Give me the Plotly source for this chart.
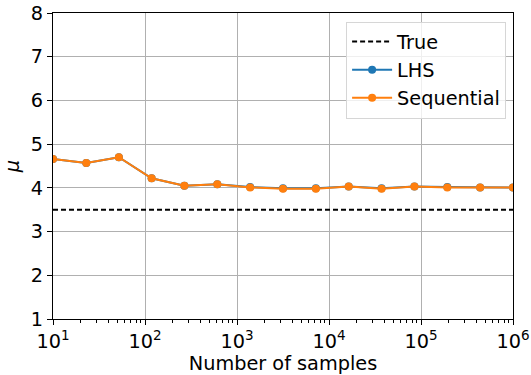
import plotly.graph_objects as go

# Data
n_samples = [10, 23, 52, 118, 268, 611, 1389, 3162, 7197, 16379, 37276, 84834, 193070, 439397, 1000000]
mu_lhs = [4.66, 4.57, 4.70, 4.22, 4.05, 4.08, 4.02, 3.99, 3.99, 4.03, 3.99, 4.03, 4.02, 4.01, 4.01]
mu_seq = [4.66, 4.57, 4.70, 4.22, 4.05, 4.08, 4.01, 3.98, 3.98, 4.03, 3.98, 4.03, 4.01, 4.01, 4.01]
true_mu = 3.5
x_range = [10, 1000000]
x_tickvals = [10, 100, 1000, 10000, 100000, 1000000]
x_ticktext = ["10<sup>1</sup>", "10<sup>2</sup>", "10<sup>3</sup>", "10<sup>4</sup>", "10<sup>5</sup>", "10<sup>6</sup>"]
x_minor = [m * 10 ** e for e in range(1, 6) for m in range(2, 10)]

FONT = "DejaVu Sans"
FS = 19.3

fig = go.Figure()
fig.add_trace(go.Scatter(
    x=x_range, y=[true_mu, true_mu], mode="lines", name="True",
    line=dict(color="black", width=2, dash="5px,3px"),
))
fig.add_trace(go.Scatter(
    x=n_samples, y=mu_lhs, mode="lines+markers", name="LHS",
    line=dict(color="#1f77b4", width=2), marker=dict(size=8, color="#1f77b4"),
))
fig.add_trace(go.Scatter(
    x=n_samples, y=mu_seq, mode="lines+markers", name="Sequential",
    line=dict(color="#ff7f0e", width=2), marker=dict(size=8, color="#ff7f0e"),
))

axis_common = dict(
    showline=True, linecolor="black", linewidth=1, mirror=True,
    showgrid=True, gridcolor="#b0b0b0", gridwidth=1,
    ticks="outside", ticklen=5, tickcolor="black", tickwidth=1,
    tickfont=dict(family=FONT, size=FS, color="black"),
    zeroline=False, automargin=False,
)

fig.update_layout(
    width=531, height=375,
    margin=dict(l=53, r=18, t=13, b=56),
    paper_bgcolor="white", plot_bgcolor="white",
    font=dict(family=FONT, size=FS, color="black"),
    showlegend=True,
    legend=dict(
        x=0.985, y=0.972, xanchor="right", yanchor="top",
        bgcolor="rgba(255,255,255,0.8)", bordercolor="#d6d6d6", borderwidth=1,
        font=dict(family=FONT, size=FS, color="black"),
        tracegroupgap=0, itemwidth=40,
    ),
    xaxis=dict(
        type="log", range=[0.99999, 6.00001],
        tickmode="array", tickvals=x_tickvals, ticktext=x_ticktext,
        title=dict(text="Number of samples", font=dict(family=FONT, size=FS), standoff=0),
        minor=dict(ticks="outside", ticklen=3, tickcolor="black", tickwidth=1,
                   showgrid=False, tickmode="array", tickvals=x_minor),
        **axis_common,
    ),
    yaxis=dict(
        range=[1, 8], dtick=1,
        title=dict(text="<i>μ</i>", font=dict(family=FONT, size=FS), standoff=6),
        **axis_common,
    ),
)

fig.write_html("out.html")
